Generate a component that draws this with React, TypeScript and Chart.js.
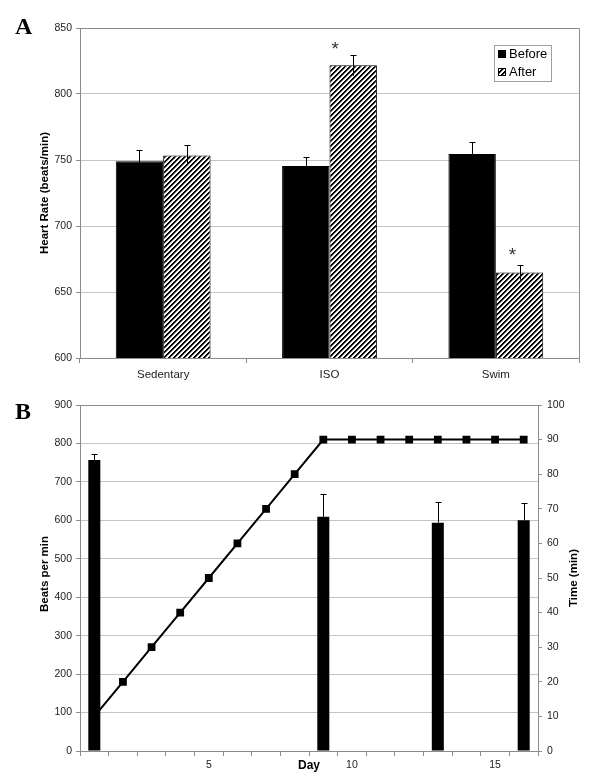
import React, { useEffect, useRef } from 'react';
import { Chart, registerables } from 'chart.js';
Chart.register(...registerables);

// ---------- Panel A data ----------
const groups = ['Sedentary', 'ISO', 'Swim'];
const beforeHR = [749, 745.5, 754.5];
const beforeErr = [8.5, 6.5, 9.5];
const afterHR = [753.5, 821.7, 664.8];
const afterErr = [7.5, 8, 5.5];
const afterSignificant = [false, true, true];
const hrMin = 600;
const hrMax = 850;
const hrStep = 50;

// ---------- Panel B data ----------
const days = ['1', '2', '3', '4', '5', '6', '7', '8', '9', '10', '11', '12', '13', '14', '15', '16'];
const beats = [757, null, null, null, null, null, null, null, 609, null, null, null, 594, null, null, 600];
const beatsErr = [15, null, null, null, null, null, null, null, 59, null, null, null, 53, null, null, 45];
const timeMin = [10, 20, 30, 40, 50, 60, 70, 80, 90, 90, 90, 90, 90, 90, 90, 90];
const bpmMin = 0;
const bpmMax = 900;
const bpmStep = 100;
const tMin = 0;
const tMax = 100;
const tStep = 10;

const FONT = "'Liberation Sans', Arial, Helvetica, sans-serif";
const SERIF = "'Liberation Serif', 'Times New Roman', serif";
const GRID = '#c4c4c4';
const AXIS = '#8c8c8c';
const TXT = '#222';

function makeHatch(): CanvasPattern | string {
  const s = 5;
  const c = document.createElement('canvas');
  c.width = s;
  c.height = s;
  const g = c.getContext('2d');
  if (!g) return '#888';
  const img = g.createImageData(s, s);
  for (let y = 0; y < s; y++) {
    for (let x = 0; x < s; x++) {
      const k = (y * s + x) * 4;
      const r = (x + y) % s;
      const v = r < 2 ? 0 : r === 2 ? 150 : 255;
      img.data[k] = v;
      img.data[k + 1] = v;
      img.data[k + 2] = v;
      img.data[k + 3] = 255;
    }
  }
  g.putImageData(img, 0, 0);
  return g.createPattern(c, 'repeat') || '#888';
}

function vText(ctx: CanvasRenderingContext2D, text: string, x: number, y: number, font: string) {
  ctx.save();
  ctx.translate(x, y);
  ctx.rotate(-Math.PI / 2);
  ctx.font = font;
  ctx.fillStyle = '#000';
  ctx.textAlign = 'center';
  ctx.textBaseline = 'middle';
  ctx.fillText(text, 0, 0);
  ctx.restore();
}

function PanelA() {
  const ref = useRef<HTMLCanvasElement>(null);
  useEffect(() => {
    if (!ref.current) return;
    const hatch = makeHatch();
    const plugin = {
      id: 'panelA',
      beforeDatasetsDraw(chart: any) {
        const { ctx, chartArea: a } = chart;
        ctx.save();
        ctx.strokeStyle = AXIS;
        ctx.lineWidth = 1;
        ctx.beginPath();
        ctx.moveTo(a.left, Math.round(a.top) + 0.5);
        ctx.lineTo(Math.round(a.right) + 0.5, Math.round(a.top) + 0.5);
        ctx.lineTo(Math.round(a.right) + 0.5, a.bottom);
        ctx.stroke();
        ctx.restore();
      },
      afterDatasetsDraw(chart: any) {
        const { ctx } = chart;
        const ys = chart.scales.y;
        const errs = [beforeErr, afterErr];
        const vals = [beforeHR, afterHR];
        ctx.save();
        ctx.strokeStyle = '#000';
        ctx.lineWidth = 1;
        errs.forEach((err, di) => {
          const meta = chart.getDatasetMeta(di);
          meta.data.forEach((el: any, i: number) => {
            const v = vals[di][i];
            const x = Math.round(el.x) + 0.5;
            const yt = Math.round(ys.getPixelForValue(v + err[i])) + 0.5;
            const yb = ys.getPixelForValue(v - err[i]);
            ctx.beginPath();
            ctx.moveTo(x, yt);
            ctx.lineTo(x, yb);
            ctx.moveTo(x - 3, yt);
            ctx.lineTo(x + 3, yt);
            ctx.stroke();
          });
        });
        // significance asterisks above "After" bars
        const afterMeta = chart.getDatasetMeta(1);
        const dx = [0, -18, -7];
        const dy = [0, -9, -14];
        ctx.fillStyle = '#333';
        ctx.font = `19px ${FONT}`;
        ctx.textAlign = 'center';
        ctx.textBaseline = 'alphabetic';
        const m = ctx.measureText('*');
        const asc = m.actualBoundingBoxAscent || 12;
        const desc = m.actualBoundingBoxDescent || -6;
        afterMeta.data.forEach((el: any, i: number) => {
          if (!afterSignificant[i]) return;
          const top = ys.getPixelForValue(afterHR[i] + afterErr[i]);
          const cy = top + dy[i];
          ctx.fillText('*', el.x + dx[i], cy + (asc - desc) / 2);
        });
        ctx.restore();
      },
      afterDraw(chart: any) {
        const { ctx, chartArea: a } = chart;
        ctx.save();
        vText(ctx, 'Heart Rate (beats/min)', 45, (a.top + a.bottom) / 2, `bold 11.5px ${FONT}`);
        ctx.font = `bold 24px ${SERIF}`;
        ctx.fillStyle = '#000';
        ctx.textAlign = 'left';
        ctx.textBaseline = 'alphabetic';
        ctx.fillText('A', 15, 34);
        // legend
        const lx = a.right - 85;
        const ly = a.top + 17;
        ctx.strokeStyle = '#a0a0a0';
        ctx.lineWidth = 1;
        ctx.strokeRect(Math.round(lx) + 0.5, Math.round(ly) + 0.5, 57, 36);
        ctx.fillStyle = '#000';
        ctx.fillRect(lx + 4, ly + 5, 8, 8);
        ctx.fillStyle = hatch as any;
        ctx.fillRect(lx + 4, ly + 23, 8, 8);
        ctx.strokeStyle = '#000';
        ctx.strokeRect(lx + 4.5, ly + 23.5, 7, 7);
        ctx.fillStyle = '#000';
        ctx.font = `13px ${FONT}`;
        ctx.textBaseline = 'middle';
        ctx.fillText('Before', lx + 15, ly + 9.5);
        ctx.fillText('After', lx + 15, ly + 27.5);
        ctx.restore();
      },
    };
    const chart = new Chart(ref.current, {
      type: 'bar',
      data: {
        labels: groups,
        datasets: [
          {
            label: 'Before',
            data: beforeHR,
            backgroundColor: '#000',
            borderColor: '#000',
            borderWidth: 1,
            categoryPercentage: 0.57,
            barPercentage: 1,
          },
          {
            label: 'After',
            data: afterHR,
            backgroundColor: hatch as any,
            borderColor: '#000',
            borderWidth: 1,
            categoryPercentage: 0.57,
            barPercentage: 1,
          },
        ],
      },
      options: {
        responsive: false,
        animation: false,
        layout: { padding: { top: 28, right: 21, left: 0, bottom: 0 } },
        plugins: { legend: { display: false }, tooltip: { enabled: false } },
        scales: {
          x: {
            grid: { offset: true, drawOnChartArea: false, tickLength: 5, color: AXIS },
            border: { color: AXIS },
            ticks: { font: { family: FONT, size: 11.5 }, color: TXT, padding: 5 },
            afterFit: (s: any) => { s.height = 32; },
          },
          y: {
            min: hrMin,
            max: hrMax,
            ticks: { stepSize: hrStep, font: { family: FONT, size: 10.5 }, color: TXT, padding: 4 },
            grid: { color: GRID, tickLength: 4, tickColor: AXIS },
            border: { color: AXIS },
            afterFit: (s: any) => { s.width = 80; },
          },
        },
      },
      plugins: [plugin],
    });
    return () => chart.destroy();
  }, []);
  return <canvas ref={ref} width={600} height={390} style={{ position: 'absolute', left: 0, top: 0 }} />;
}

function PanelB() {
  const ref = useRef<HTMLCanvasElement>(null);
  useEffect(() => {
    if (!ref.current) return;
    const plugin = {
      id: 'panelB',
      beforeDatasetsDraw(chart: any) {
        const { ctx, chartArea: a } = chart;
        ctx.save();
        ctx.strokeStyle = AXIS;
        ctx.lineWidth = 1;
        ctx.beginPath();
        ctx.moveTo(a.left, Math.round(a.top) + 0.5);
        ctx.lineTo(a.right, Math.round(a.top) + 0.5);
        ctx.stroke();
        ctx.restore();
      },
      afterDatasetsDraw(chart: any) {
        const { ctx } = chart;
        const ys = chart.scales.y;
        const meta = chart.getDatasetMeta(0);
        ctx.save();
        ctx.strokeStyle = '#000';
        ctx.lineWidth = 1;
        meta.data.forEach((el: any, i: number) => {
          const v = beats[i];
          const e = beatsErr[i];
          if (v == null || e == null) return;
          const x = Math.round(el.x) + 0.5;
          const yt = Math.round(ys.getPixelForValue(v + e)) + 0.5;
          const yb = ys.getPixelForValue(v);
          ctx.beginPath();
          ctx.moveTo(x, yt);
          ctx.lineTo(x, yb);
          ctx.moveTo(x - 3, yt);
          ctx.lineTo(x + 3, yt);
          ctx.stroke();
        });
        ctx.restore();
      },
      afterDraw(chart: any) {
        const { ctx, chartArea: a } = chart;
        ctx.save();
        const cy = (a.top + a.bottom) / 2;
        vText(ctx, 'Beats per min', 45, cy - 4, `bold 11.5px ${FONT}`);
        vText(ctx, 'Time (min)', 574, cy, `bold 11.5px ${FONT}`);
        ctx.font = `bold 12px ${FONT}`;
        ctx.fillStyle = '#000';
        ctx.textAlign = 'center';
        ctx.textBaseline = 'middle';
        ctx.fillText('Day', (a.left + a.right) / 2, a.bottom + 14.5);
        ctx.font = `bold 24px ${SERIF}`;
        ctx.textAlign = 'left';
        ctx.textBaseline = 'alphabetic';
        ctx.fillText('B', 15, 29);
        ctx.restore();
      },
    };
    const chart = new Chart(ref.current, {
      type: 'bar',
      data: {
        labels: days,
        datasets: [
          {
            type: 'bar',
            label: 'Beats per min',
            data: beats as any,
            backgroundColor: '#000',
            borderColor: '#000',
            borderWidth: 0,
            categoryPercentage: 1,
            barPercentage: 0.42,
            yAxisID: 'y',
            order: 1,
          },
          {
            type: 'line',
            label: 'Time (min)',
            data: timeMin,
            borderColor: '#000',
            borderWidth: 2,
            backgroundColor: '#000',
            pointStyle: 'rect',
            pointRadius: 5.5,
            pointBackgroundColor: '#000',
            pointBorderColor: '#000',
            pointBorderWidth: 0,
            tension: 0,
            yAxisID: 'y1',
            order: 2,
          } as any,
        ],
      },
      options: {
        responsive: false,
        animation: false,
        layout: { padding: { top: 15, right: 0, left: 0, bottom: 0 } },
        plugins: { legend: { display: false }, tooltip: { enabled: false } },
        scales: {
          x: {
            grid: { offset: true, drawOnChartArea: false, tickLength: 5, color: AXIS },
            border: { color: AXIS },
            ticks: {
              autoSkip: false,
              maxRotation: 0,
              font: { family: FONT, size: 10.5 },
              color: TXT,
              padding: 3,
              callback: (_v: any, i: number) => ((i + 1) % 5 === 0 ? days[i] : ''),
            },
            afterFit: (s: any) => { s.height = 31; },
          },
          y: {
            position: 'left',
            min: bpmMin,
            max: bpmMax,
            ticks: { stepSize: bpmStep, font: { family: FONT, size: 10.5 }, color: TXT, padding: 4 },
            grid: { color: GRID, tickLength: 4, tickColor: AXIS },
            border: { color: AXIS },
            afterFit: (s: any) => { s.width = 80; },
          },
          y1: {
            position: 'right',
            min: tMin,
            max: tMax,
            ticks: { stepSize: tStep, font: { family: FONT, size: 10.5 }, color: TXT, padding: 5 },
            grid: { drawOnChartArea: false, tickLength: 4, color: AXIS },
            border: { color: AXIS },
            afterFit: (s: any) => { s.width = 62; },
          },
        },
      },
      plugins: [plugin],
    });
    return () => chart.destroy();
  }, []);
  return <canvas ref={ref} width={600} height={392} style={{ position: 'absolute', left: 0, top: 390 }} />;
}

export default function App() {
  return (
    <div style={{ position: 'absolute', left: 0, top: 0, width: 600, height: 782, background: '#fff', overflow: 'hidden' }}>
      <PanelA />
      <PanelB />
    </div>
  );
}
